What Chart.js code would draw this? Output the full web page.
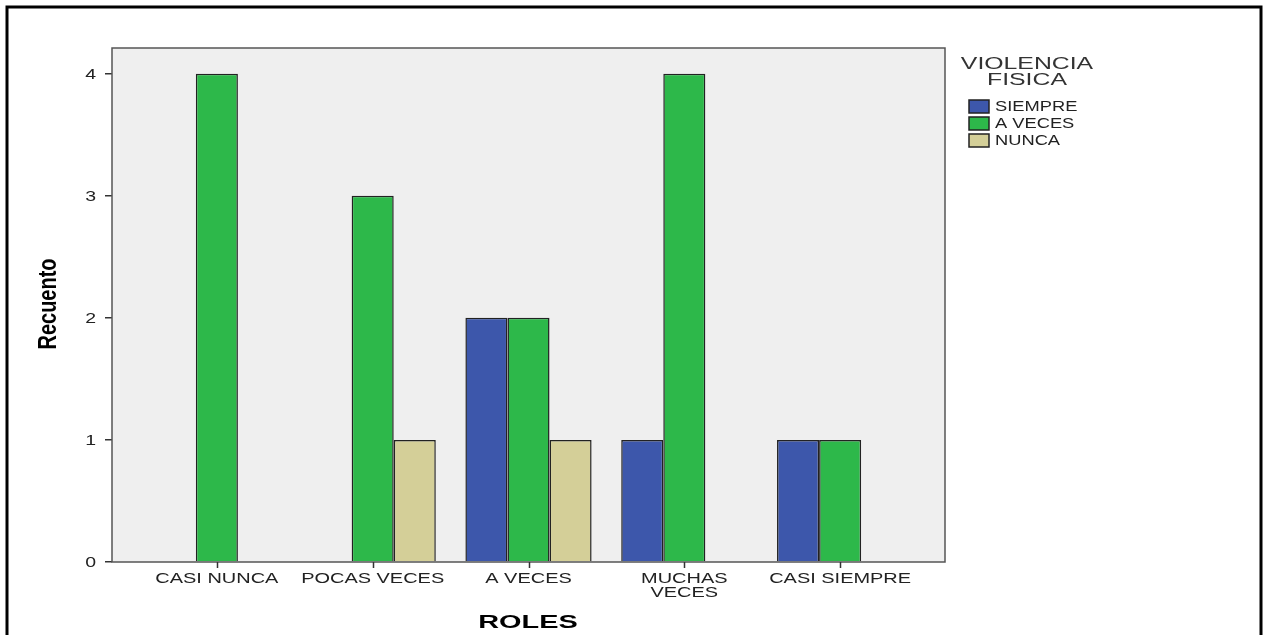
<!DOCTYPE html>
<html>
<head>
<meta charset="utf-8">
<script src="https://cdn.jsdelivr.net/npm/chart.js@4/dist/chart.umd.min.js"></script>
<style>
  html, body { margin: 0; padding: 0; background: #fff; }
  #wrap { width: 1268px; height: 635px; }
</style>
</head>
<body>
<div id="wrap"><canvas id="myCanvas" width="1268" height="635"></canvas></div>
<script>
var roles = ["CASI NUNCA", "POCAS VECES", "A VECES", ["MUCHAS", "VECES"], "CASI SIEMPRE"];
var siempre = [0, 0, 2, 1, 1];
var aVeces = [4, 3, 2, 4, 1];
var nunca = [0, 1, 1, 0, 0];
var yTicks = [0, 1, 2, 3, 4];

var seriesNames = ["SIEMPRE", "A VECES", "NUNCA"];
var seriesColors = ["#3d57ab", "#2db84a", "#d4cf98"];

var FONT = "'Liberation Sans', Arial, sans-serif";

function toPoints(arr) {
  // SPSS leaves empty cells out, so 0 counts get no bar
  return arr.map(function (v, i) { return { x: i, y: v === 0 ? null : v }; });
}

var datasets = [siempre, aVeces, nunca].map(function (arr, k) {
  return {
    label: seriesNames[k],
    data: toPoints(arr),
    backgroundColor: seriesColors[k],
    borderColor: "#222",
    borderWidth: 1.5,
    borderSkipped: "bottom",
    categoryPercentage: 0.81,
    barPercentage: 1.0
  };
});

// the source image is stretched sideways, so text is drawn wider than the font
function wideText(c, text, x, y, sx) {
  c.save();
  c.translate(x, y);
  c.scale(sx, 1);
  c.fillText(text, 0, 0);
  c.restore();
}

var framePlugin = {
  id: "frame",
  beforeDraw: function (chart) {
    var c = chart.ctx, a = chart.chartArea;
    c.save();
    c.fillStyle = "#fff";
    c.fillRect(0, 0, chart.width, chart.height);
    c.strokeStyle = "#000";
    c.lineWidth = 3;
    c.strokeRect(7, 7, 1254, 660);
    c.fillStyle = "#efefef";
    c.fillRect(a.left, a.top, a.right - a.left, a.bottom - a.top);
    c.restore();
  },
  afterDraw: function (chart) {
    var c = chart.ctx, a = chart.chartArea;
    var xs = chart.scales.x, ys = chart.scales.y;
    c.save();
    c.strokeStyle = "#555";
    c.lineWidth = 1.5;
    c.strokeRect(a.left, a.top, a.right - a.left, a.bottom - a.top);

    // x tick marks
    c.strokeStyle = "#333";
    c.beginPath();
    roles.forEach(function (r, i) {
      var px = Math.round(xs.getPixelForValue(i)) + 0.5;
      c.moveTo(px, a.bottom);
      c.lineTo(px, a.bottom + 6);
    });
    c.stroke();

    c.textBaseline = "middle";

    // tick labels
    c.fillStyle = "#222";
    c.font = "15px " + FONT;
    c.textAlign = "center";
    roles.forEach(function (r, i) {
      var px = xs.getPixelForValue(i);
      var lines = Array.isArray(r) ? r : [r];
      lines.forEach(function (ln, j) {
        wideText(c, ln, px, 579 + j * 14, 1.33);
      });
    });
    c.textAlign = "right";
    yTicks.forEach(function (v) {
      wideText(c, String(v), 96, ys.getPixelForValue(v) + 1, 1.3);
    });

    // axis titles
    c.fillStyle = "#000";
    c.textAlign = "center";
    c.font = "bold 19px " + FONT;
    wideText(c, "ROLES", 528, 623, 1.52);
    c.save();
    c.translate(49, 304);
    c.rotate(-Math.PI / 2);
    c.scale(1, 1.3);
    c.font = "bold 20px 'Liberation Sans Narrow', 'Liberation Sans', Arial, sans-serif";
    c.fillText("Recuento", 0, 0);
    c.restore();

    // legend
    c.fillStyle = "#333";
    c.font = "16px " + FONT;
    wideText(c, "VIOLENCIA", 1027, 65, 1.55);
    wideText(c, "FISICA", 1027, 81, 1.55);
    c.textAlign = "left";
    c.font = "15px " + FONT;
    chart.data.datasets.forEach(function (ds, i) {
      var y = 106 + i * 17;
      c.fillStyle = ds.backgroundColor;
      c.fillRect(969, y - 6, 20, 13);
      c.strokeStyle = "#222";
      c.lineWidth = 1.5;
      c.strokeRect(969, y - 6, 20, 13);
      c.fillStyle = "#222";
      wideText(c, ds.label, 995, y + 1, 1.22);
    });
    c.restore();
  }
};

var ctx = document.getElementById("myCanvas");
var bargraph = new Chart(ctx, {
  type: "bar",
  data: { datasets: datasets },
  options: {
    responsive: false,
    animation: false,
    layout: { padding: { top: 48, right: 323, left: 0, bottom: 0 } },
    plugins: { legend: { display: false }, tooltip: { enabled: false } },
    scales: {
      x: {
        type: "linear",
        offset: false,
        min: -0.673,
        max: 4.673,
        afterBuildTicks: function (scale) {
          scale.ticks = roles.map(function (r, i) { return { value: i }; });
        },
        afterFit: function (scale) { scale.height = 73; },
        ticks: { display: false },
        grid: { display: false },
        border: { display: false }
      },
      y: {
        min: 0,
        max: 4.21,
        afterBuildTicks: function (scale) {
          scale.ticks = yTicks.map(function (v) { return { value: v }; });
        },
        afterFit: function (scale) { scale.width = 112; },
        ticks: { display: false },
        grid: { drawOnChartArea: false, color: "#333", tickLength: 7, lineWidth: 1.5 },
        border: { display: false }
      }
    }
  },
  plugins: [framePlugin]
});
</script>
</body>
</html>
